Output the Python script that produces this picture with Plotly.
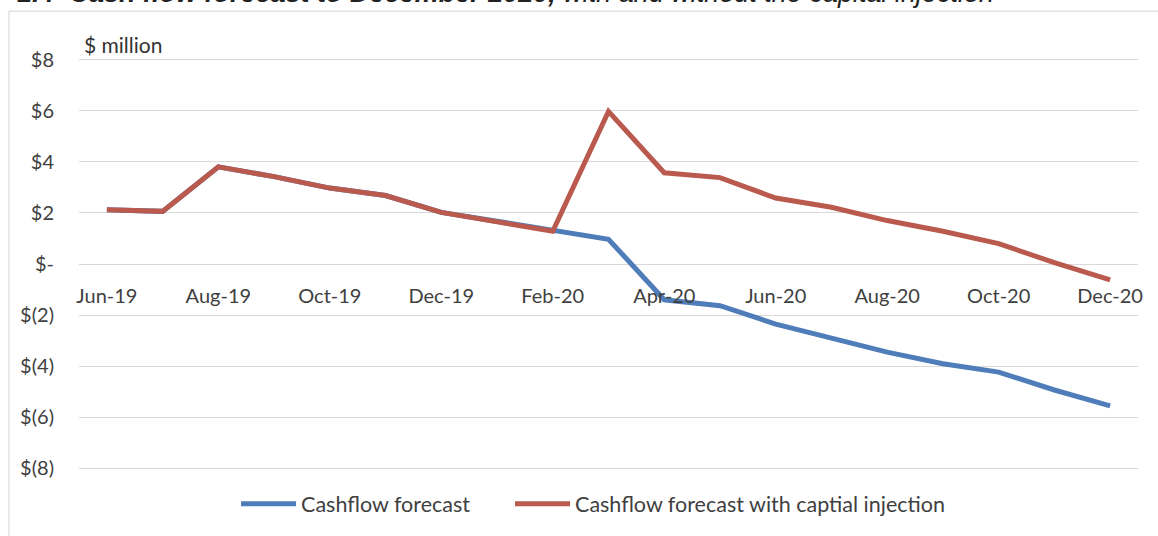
import plotly.graph_objects as go

months = ["Jun-19", "Jul-19", "Aug-19", "Sep-19", "Oct-19", "Nov-19", "Dec-19",
          "Jan-20", "Feb-20", "Mar-20", "Apr-20", "May-20", "Jun-20", "Jul-20",
          "Aug-20", "Sep-20", "Oct-20", "Nov-20", "Dec-20"]

cashflow = [2.12, 2.06, 3.80, 3.42, 2.97, 2.68, 2.02, 1.67, 1.28, 0.97,
            -1.40, -1.63, -2.35, -2.90, -3.45, -3.90, -4.23, -4.93, -5.55]

cashflow_injection = [2.12, 2.06, 3.80, 3.42, 2.97, 2.68, 2.02, 1.67, 1.28, 5.97,
                      3.57, 3.38, 2.58, 2.22, 1.70, 1.28, 0.80, 0.05, -0.62]

y_tickvals = [-8, -6, -4, -2, 0, 2, 4, 6, 8]
y_ticktext = ["$(8)", "$(6)", "$(4)", "$(2)", "$-", "$2", "$4", "$6", "$8"]
x_tickvals = months[::2]

FONT = "Lato"
TXT = "#404040"

fig = go.Figure()
fig.add_trace(go.Scatter(x=months, y=cashflow, mode="lines", name="Cashflow forecast",
                         line=dict(color="#4F7DBA", width=5), legend="legend"))
fig.add_trace(go.Scatter(x=months, y=cashflow_injection, mode="lines",
                         name="Cashflow forecast with captial injection",
                         line=dict(color="#BA5A4E", width=5), legend="legend2"))

legend_common = dict(orientation="h", xanchor="left", y=-0.079, yanchor="middle",
                     itemwidth=55, font=dict(family=FONT, size=21.5, color=TXT),
                     bgcolor="rgba(0,0,0,0)")

fig.update_layout(
    width=1158, height=536,
    margin=dict(l=79, r=20, t=57, b=63),
    paper_bgcolor="white", plot_bgcolor="white",
    font=dict(family=FONT, size=20, color=TXT),
    showlegend=True,
    legend=dict(x=0.1483, **legend_common),
    legend2=dict(x=0.407, **legend_common),
    xaxis=dict(type="category", range=[-0.5, 18.5], tickmode="array", tickvals=x_tickvals,
               ticktext=x_tickvals, anchor="free", position=0.5, showgrid=False,
               showline=False, zeroline=False, ticks="", ticklabelstandoff=18,
               tickfont=dict(family=FONT, size=20, color=TXT)),
    yaxis=dict(range=[-8.1, 8.1], tickmode="array", tickvals=y_tickvals, ticktext=y_ticktext,
               showgrid=True, gridcolor="#d9d9d9", gridwidth=1, zeroline=False,
               showline=False, ticks="", ticklabelstandoff=24,
               tickfont=dict(family=FONT, size=20, color=TXT)),
    shapes=[dict(type="rect", xref="paper", yref="paper", x0=-0.0661, x1=1.2,
                 y0=-0.5, y1=1.1106, line=dict(color="#d4d4d4", width=1),
                 fillcolor="rgba(0,0,0,0)", layer="below")],
    annotations=[
        dict(text="$ million", xref="paper", yref="paper", x=0.003, y=1.03,
             xanchor="left", yanchor="middle", showarrow=False,
             font=dict(family=FONT, size=21, color="#333333")),
        dict(text="<b><i>1.4  Cash flow forecast to December 2020,</i></b><i> with and without the capital injection</i>",
             xref="paper", yref="paper", x=-0.0604, y=1.1145, xanchor="left", yanchor="bottom",
             showarrow=False, font=dict(family="Liberation Sans", size=27, color="#222222")),
    ],
)

fig.write_html("out.html")
